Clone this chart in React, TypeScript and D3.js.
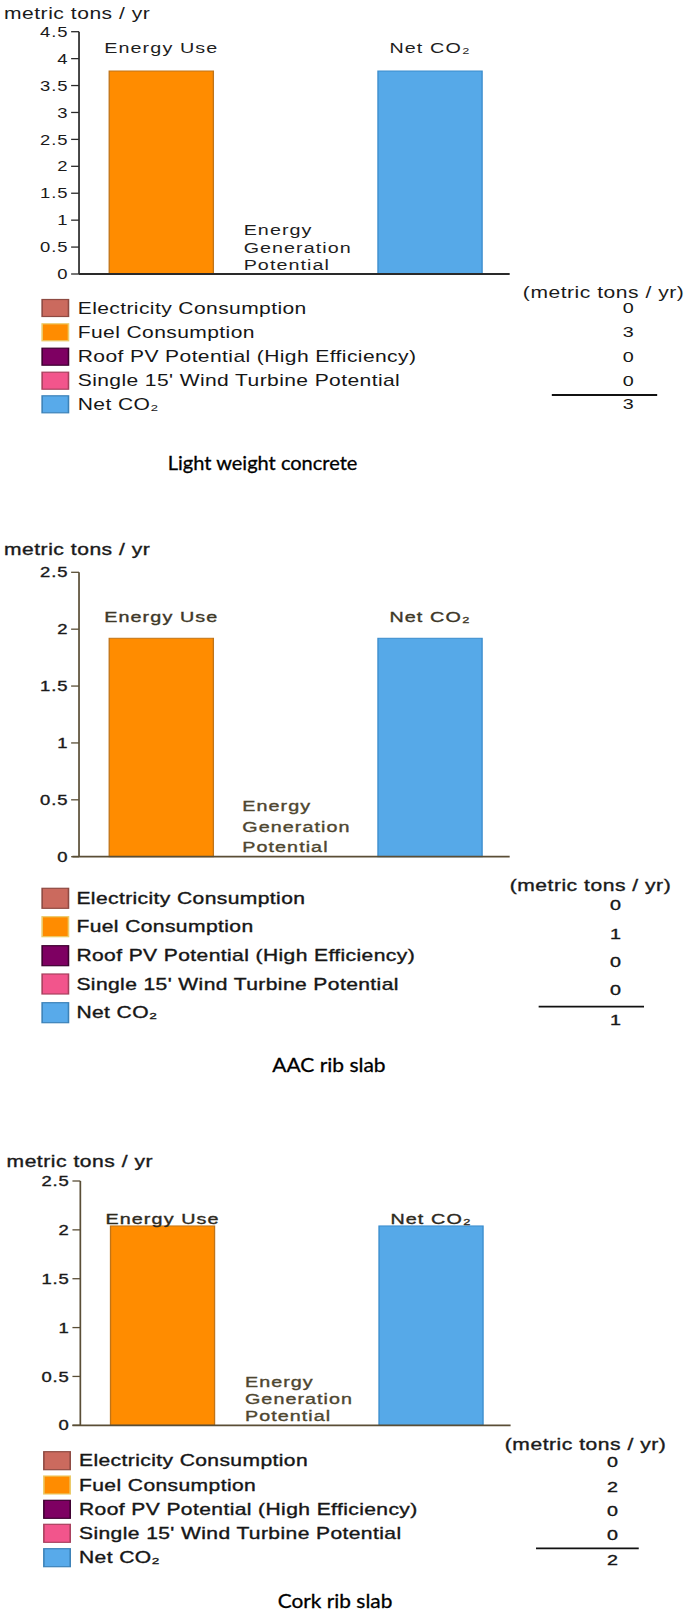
import React from "react";
import * as d3 from "d3";

// ---------- data ----------
const barCategories = ["Energy Use", "Energy Generation Potential", "Net CO₂"];
const panelCaptions = ["Light weight concrete", "AAC rib slab", "Cork rib slab"];
const energyUseValues = [3.77, 1.92, 2.04];
const generationValues = [0, 0, 0];
const netCO2Values = [3.77, 1.92, 2.04];
const yMaxValues = [4.5, 2.5, 2.5];
const yTickStep = 0.5;
const yAxisTitle = "metric tons / yr";
const tableUnit = "(metric tons / yr)";
const legendLabels = [
  "Electricity Consumption",
  "Fuel Consumption",
  "Roof PV Potential (High Efficiency)",
  "Single 15' Wind Turbine Potential",
  "Net CO₂",
];
const tableValuesLightweight = [0, 3, 0, 0, 3];
const tableValuesAAC = [0, 1, 0, 0, 1];
const tableValuesCork = [0, 2, 0, 0, 2];
const tableValues = [tableValuesLightweight, tableValuesAAC, tableValuesCork];

// ---------- styles ----------
const legendFill = ["#CB6A5E", "#FF8C00", "#7E0062", "#F2558C", "#58AAEA"];
const legendStroke = ["#8E4A42", "#EBCB6A", "#3E0030", "#A8405E", "#3C82B8"];
const barFill = ["#FF8C00", "none", "#56A9E8"];
const barStroke = ["#C07418", "none", "#3A8CCC"];

const FONT = "'Liberation Sans', Arial, sans-serif";
// the original graphic is horizontally stretched; layout below is in unstretched units
const H_STRETCH = 1.317;

const layouts = [
  {
    titleX: 3, titleY: 13, axisX: 60, yTop: 31.7, y0: 274, xStart: 60, xEnd: 387,
    labelY: 48, egpX: 185, egpY: [230, 247.7, 265],
    hdrX: 397, hdrY: 292, swX: 32, swW: 20, swH: 17,
    rowsY: [308, 332.3, 356.7, 380.7, 404.3], textX: 59,
    valX: 477, valsY: [308, 332.3, 356.7, 380.7, 404.3],
    ruleY: 395, ruleX0: 419, ruleX1: 499,
    capX: 199.4, capY: 462, capW: 144, heavy: 0,
    axisColor: "#2a2a2a", labelColor: "#1e1e1e", egpColor: "#1e1e1e",
  },
  {
    titleX: 3, titleY: 549.3, axisX: 60, yTop: 572.3, y0: 856.7, xStart: 55, xEnd: 387,
    labelY: 617.3, egpX: 184, egpY: [806, 826.7, 846.7],
    hdrX: 387, hdrY: 885, swX: 32, swW: 20, swH: 20,
    rowsY: [898.3, 926.7, 955.7, 984, 1012.7], textX: 58,
    valX: 467.3, valsY: [905, 934, 961.7, 990, 1020],
    ruleY: 1006.7, ruleX0: 409, ruleX1: 489,
    capX: 249.8, capY: 1064, capW: 86, heavy: 0.35,
    axisColor: "#5a4e36", labelColor: "#3e3828", egpColor: "#4e4630",
  },
  {
    titleX: 5, titleY: 1161.7, axisX: 61, yTop: 1181, y0: 1425.3, xStart: 55, xEnd: 387.7,
    labelY: 1219.3, egpX: 186, egpY: [1382, 1399.3, 1416],
    hdrX: 383.3, hdrY: 1444.3, swX: 33.3, swW: 20, swH: 18,
    rowsY: [1460.7, 1485, 1509.3, 1533.3, 1557.7], textX: 60,
    valX: 465, valsY: [1462.3, 1486.7, 1510.7, 1534.7, 1560],
    ruleY: 1548.3, ruleX0: 407, ruleX1: 485,
    capX: 254.4, capY: 1600, capW: 87, heavy: 0.35,
    axisColor: "#5a4e36", labelColor: "#2e2a1e", egpColor: "#4e4630",
  },
];

function Panel({ idx }: { idx: number }) {
  const L = layouts[idx];
  const values = [energyUseValues[idx], generationValues[idx], netCO2Values[idx]];
  const y = d3.scaleLinear().domain([0, yMaxValues[idx]]).range([L.y0, L.yTop]);
  const x = d3
    .scaleBand<string>()
    .domain(barCategories)
    .range([L.axisX + 1, L.xEnd + 1])
    .paddingInner(0.225)
    .paddingOuter(0.215);
  const ticks = d3.range(0, yMaxValues[idx] + 1e-9, yTickStep);
  const fmt = d3.format("~g");
  const egpWords = ["Energy", "Generation", "Potential"];
  const heavyProps = (color: string) =>
    L.heavy > 0 ? { stroke: color, strokeWidth: L.heavy } : {};

  return (
    <g>
      <text x={L.titleX} y={L.titleY} dominantBaseline="central" fontSize={16}
        letterSpacing={0.4} fill="#1a1a1a" fontFamily={FONT} {...heavyProps("#1a1a1a")}>{yAxisTitle}</text>

      {/* bars */}
      {barCategories.map((c, i) =>
        values[i] > 0 ? (
          <rect key={c} x={x(c)} y={y(values[i])} width={x.bandwidth()}
            height={L.y0 - y(values[i])} fill={barFill[i]} stroke={barStroke[i]} strokeWidth={1} />
        ) : null
      )}

      {/* axes */}
      <line x1={L.axisX} x2={L.axisX} y1={L.yTop} y2={L.y0} stroke={L.axisColor} strokeWidth={1.3} />
      <line x1={L.xStart} x2={L.xEnd} y1={L.y0} y2={L.y0} stroke={L.axisColor} strokeWidth={1.8} />
      {ticks.map((t) => (
        <g key={t}>
          <line x1={L.axisX - 6} x2={L.axisX} y1={y(t)} y2={y(t)} stroke={L.axisColor} strokeWidth={1.3} />
          <text x={L.axisX - 8} y={y(t)} textAnchor="end" dominantBaseline="central"
            fontSize={14} letterSpacing={0.7} fill="#1a1a1a" fontFamily={FONT} {...heavyProps("#1a1a1a")}>{fmt(t)}</text>
        </g>
      ))}

      {/* category labels */}
      <text x={(x(barCategories[0]) as number) + x.bandwidth() / 2} y={L.labelY}
        textAnchor="middle" dominantBaseline="central" fontSize={15} letterSpacing={0.85}
        fill={L.labelColor} fontFamily={FONT} {...heavyProps(L.labelColor)}>{barCategories[0]}</text>
      <text x={(x(barCategories[2]) as number) + x.bandwidth() / 2} y={L.labelY}
        textAnchor="middle" dominantBaseline="central" fontSize={15} letterSpacing={0.85}
        fill={L.labelColor} fontFamily={FONT} {...heavyProps(L.labelColor)}>{barCategories[2]}</text>
      {egpWords.map((w, i) => (
        <text key={w} x={L.egpX} y={L.egpY[i]} dominantBaseline="central" fontSize={15}
          letterSpacing={0.8} fill={L.egpColor} fontFamily={FONT} {...heavyProps(L.egpColor)}>{w}</text>
      ))}

      {/* legend table */}
      <text x={L.hdrX} y={L.hdrY} dominantBaseline="central" fontSize={16} letterSpacing={0.4}
        fill="#1a1a1a" fontFamily={FONT} {...heavyProps("#1a1a1a")}>{tableUnit}</text>
      {legendLabels.map((lab, i) => (
        <g key={lab}>
          <rect x={L.swX} y={L.rowsY[i] - L.swH / 2} width={L.swW} height={L.swH}
            fill={legendFill[i]} stroke={legendStroke[i]} strokeWidth={1.2} />
          <text x={L.textX} y={L.rowsY[i]} dominantBaseline="central" fontSize={16}
            letterSpacing={0.3} fill="#161616" fontFamily={FONT} {...heavyProps("#161616")}>{lab}</text>
          <text x={L.valX} y={L.valsY[i]} textAnchor="middle" dominantBaseline="central"
            fontSize={15} fill="#161616" fontFamily={FONT} {...heavyProps("#161616")}>{tableValues[idx][i]}</text>
        </g>
      ))}
      <line x1={L.ruleX0} x2={L.ruleX1} y1={L.ruleY} y2={L.ruleY} stroke="#111" strokeWidth={1.8} />

      {/* caption */}
      <text x={L.capX} y={L.capY} textAnchor="middle" dominantBaseline="central" fontSize={20}
        textLength={L.capW} lengthAdjust="spacingAndGlyphs" fill="#000" stroke="#000" strokeWidth={0.3}
        fontFamily="Lato, 'Noto Sans', sans-serif">{panelCaptions[idx]}</text>
    </g>
  );
}

export default function App() {
  return (
    <div style={{ position: "absolute", left: 0, top: 0, width: 685, height: 1611, background: "#fff" }}>
      <svg width={685} height={1611} viewBox="0 0 685 1611" style={{ display: "block" }}>
        <rect x={0} y={0} width={685} height={1611} fill="#fff" />
        <g transform={`scale(${H_STRETCH},1)`}>
          {layouts.map((_, i) => (
            <Panel key={i} idx={i} />
          ))}
        </g>
      </svg>
    </div>
  );
}
